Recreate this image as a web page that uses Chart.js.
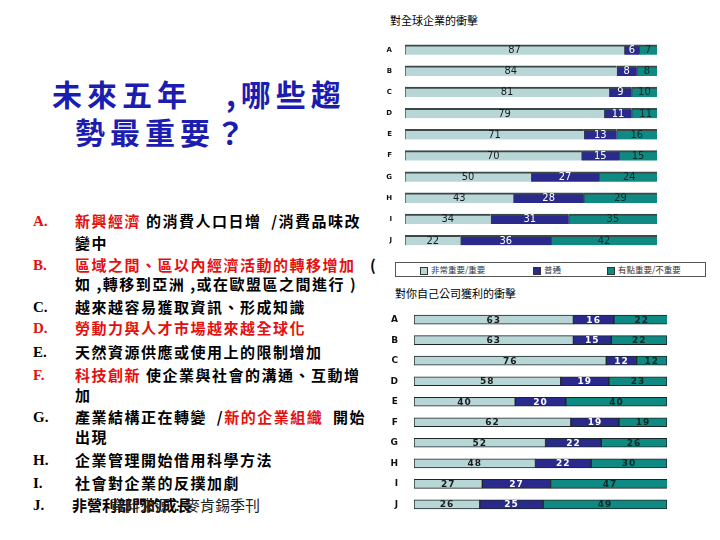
<!DOCTYPE html>
<html>
<head>
<meta charset="utf-8">
<script src="https://cdn.jsdelivr.net/npm/chart.js@4.4.1/dist/chart.umd.min.js"></script>
<style>
    body { margin: 0; background: #fff; }
    #page { position: relative; width: 720px; height: 540px; overflow: hidden; font-family: "Noto Sans CJK TC", sans-serif; }
    .abs { position: absolute; white-space: nowrap; }
    .title { color: #1c1cb0; font-weight: bold; font-size: 30px; letter-spacing: 5px; line-height: 30px; }
    .letter { font-family: "Liberation Serif", serif; font-weight: bold; font-size: 15px; line-height: 20px; }
    .item { font-weight: bold; font-size: 15px; letter-spacing: 1.5px; line-height: 20px; color: #000; }
    .red { color: #e41010; }
    .ctitle { font-size: 11px; color: #000; line-height: 14px; }
    #legend { position: absolute; left: 395px; top: 262px; width: 309px; height: 13px; border: 1px solid #555; font-size: 8.5px; line-height: 13px; color: #333; }
    #legend span.sw { display: inline-block; width: 6px; height: 6px; border: 1px solid #333; vertical-align: middle; margin-right: 3px; }
    canvas { position: absolute; }
</style>
</head>
<body>
<div id="page">
    <div class="abs title" style="left:52px; top:78px;">未來五年</div>
    <div class="abs title" style="left:226px; top:78px;">,哪些趨</div>
    <div class="abs title" style="left:75px; top:116px;">勢最重要？</div>

    <div class="abs letter red" style="left:33px; top:211px;">A.</div>
    <div class="abs item" style="left:75px; top:211px;"><span class="red">新興經濟</span> 的消費人口日增 &nbsp;/消費品味改</div>
    <div class="abs item" style="left:75px; top:233px;">變中</div>
    <div class="abs letter red" style="left:33px; top:255px;">B.</div>
    <div class="abs item" style="left:75px; top:255px;"><span class="red">區域之間、區以內經濟活動的轉移增加</span></div>
    <div class="abs item" style="left:370px; top:255px;">(</div>
    <div class="abs item" style="left:75px; top:274px;">如 ,轉移到亞洲 ,或在歐盟區之間進行 )</div>
    <div class="abs letter" style="left:33px; top:297px;">C.</div>
    <div class="abs item" style="left:75px; top:297px;">越來越容易獲取資訊、形成知識</div>
    <div class="abs letter red" style="left:33px; top:318px;">D.</div>
    <div class="abs item red" style="left:75px; top:318px;">勞動力與人才市場越來越全球化</div>
    <div class="abs letter" style="left:33px; top:342px;">E.</div>
    <div class="abs item" style="left:75px; top:342px;">天然資源供應或使用上的限制增加</div>
    <div class="abs letter red" style="left:33px; top:365px;">F.</div>
    <div class="abs item" style="left:75px; top:365px;"><span class="red">科技創新</span> 使企業與社會的溝通、互動增</div>
    <div class="abs item" style="left:75px; top:385px;">加</div>
    <div class="abs letter" style="left:33px; top:407px;">G.</div>
    <div class="abs item" style="left:75px; top:407px;">產業結構正在轉變 &nbsp;/<span class="red">新的企業組織</span> &nbsp;開始</div>
    <div class="abs item" style="left:75px; top:427px;">出現</div>
    <div class="abs letter" style="left:33px; top:450px;">H.</div>
    <div class="abs item" style="left:75px; top:450px;">企業管理開始借用科學方法</div>
    <div class="abs letter" style="left:33px; top:473px;">I.</div>
    <div class="abs item" style="left:75px; top:473px;">社會對企業的反撲加劇</div>
    <div class="abs letter" style="left:33px; top:495px;">J.</div>
    <div class="abs item" style="left:72px; top:495px; letter-spacing:0;">非營利部門的成長</div>
    <div class="abs" style="left:110px; top:495px; font-size:15px; line-height:20px; color:#222;">資料來源：麥肯錫季刊</div>

    <div class="abs ctitle" style="left:390px; top:13px;">對全球企業的衝擊</div>
    <canvas id="chart-global" width="277" height="230" style="left:380px; top:30px;"></canvas>
    <div id="legend">
        <span style="position:absolute; left:24px;"><span class="sw" style="background:#b8d6d6;"></span>非常重要/重要</span>
        <span style="position:absolute; left:137px;"><span class="sw" style="background:#2a2a8c;"></span>普通</span>
        <span style="position:absolute; left:211px;"><span class="sw" style="background:#0e8a82;"></span>有點重要/不重要</span>
    </div>

    <div class="abs ctitle" style="left:395px; top:286px;">對你自己公司獲利的衝擊</div>
    <canvas id="chart-company" width="278" height="232" style="left:389px; top:296px;"></canvas>
</div>

<script>
// categories (A-J match the list on the left)
const categories = ['A', 'B', 'C', 'D', 'E', 'F', 'G', 'H', 'I', 'J'];
const seriesNames = ['非常重要/重要', '普通', '有點重要/不重要'];

// impact on global business (%)
const globalImportant = [87, 84, 81, 79, 71, 70, 50, 43, 34, 22];
const globalNeutral   = [6, 8, 9, 11, 13, 15, 27, 28, 31, 36];
const globalMinor     = [7, 8, 10, 11, 16, 15, 24, 29, 35, 42];

// impact on own company's profit (%)
const companyImportant = [63, 63, 76, 58, 40, 62, 52, 48, 27, 26];
const companyNeutral   = [16, 15, 12, 19, 20, 19, 22, 22, 27, 25];
const companyMinor     = [22, 22, 12, 23, 40, 19, 26, 30, 47, 49];

const barColors = ['#b8d6d6', '#2a2a8c', '#0e8a82'];
const labelColors = ['#1a1a1a', '#ffffff', '#0c2a28'];

// draws the value in the middle of each segment
const segmentLabels = {
    id: 'segmentLabels',
    afterDatasetsDraw(chart, args, opts) {
        const ctx = chart.ctx;
        ctx.save();
        ctx.font = opts.font;
        ctx.textAlign = 'center';
        ctx.textBaseline = 'middle';
        if (opts.spacing) ctx.letterSpacing = opts.spacing;
        chart.data.datasets.forEach((ds, i) => {
            const meta = chart.getDatasetMeta(i);
            ctx.fillStyle = labelColors[i];
            meta.data.forEach((bar, j) => {
                const p = bar.getProps(['x', 'y', 'base'], true);
                ctx.fillText(String(ds.data[j]), (p.x + p.base) / 2, p.y + 0.5);
            });
        });
        ctx.restore();
    }
};

function makeChart(id, series, cfg) {
    return new Chart(document.getElementById(id), {
        type: 'bar',
        data: {
            labels: categories,
            datasets: series.map((data, i) => ({
                label: seriesNames[i],
                data: data,
                backgroundColor: barColors[i],
                borderColor: cfg.borderColor,
                borderWidth: cfg.borderWidth,
                borderSkipped: false,
                barThickness: cfg.thickness
            }))
        },
        options: {
            indexAxis: 'y',
            responsive: false,
            animation: false,
            layout: { padding: 0 },
            plugins: {
                legend: { display: false },
                tooltip: { enabled: false },
                segmentLabels: { font: cfg.labelFont, spacing: cfg.spacing }
            },
            scales: {
                x: { stacked: true, min: 0, max: 100, display: false },
                y: {
                    stacked: true,
                    grid: { display: false },
                    border: { display: false },
                    ticks: { color: '#111', font: cfg.tickFont, padding: cfg.tickPadding },
                    afterFit: (scale) => { scale.width = 25; }
                }
            }
        },
        plugins: [segmentLabels]
    });
}

makeChart('chart-global', [globalImportant, globalNeutral, globalMinor], {
    borderColor: '#3c4848',
    borderWidth: { top: 2, left: 1, right: 0, bottom: 0 },
    thickness: 10,
    labelFont: '11px "DejaVu Sans Condensed", sans-serif',
    tickFont: { family: 'DejaVu Sans', size: 7, weight: 'bold' },
    tickPadding: 5
});

makeChart('chart-company', [companyImportant, companyNeutral, companyMinor], {
    borderColor: '#1c2626',
    borderWidth: 1,
    thickness: 9,
    labelFont: 'bold 9px "DejaVu Sans", sans-serif',
    spacing: '1px',
    tickFont: { family: 'DejaVu Sans', size: 9, weight: 'bold' },
    tickPadding: 8
});
</script>
</body>
</html>
